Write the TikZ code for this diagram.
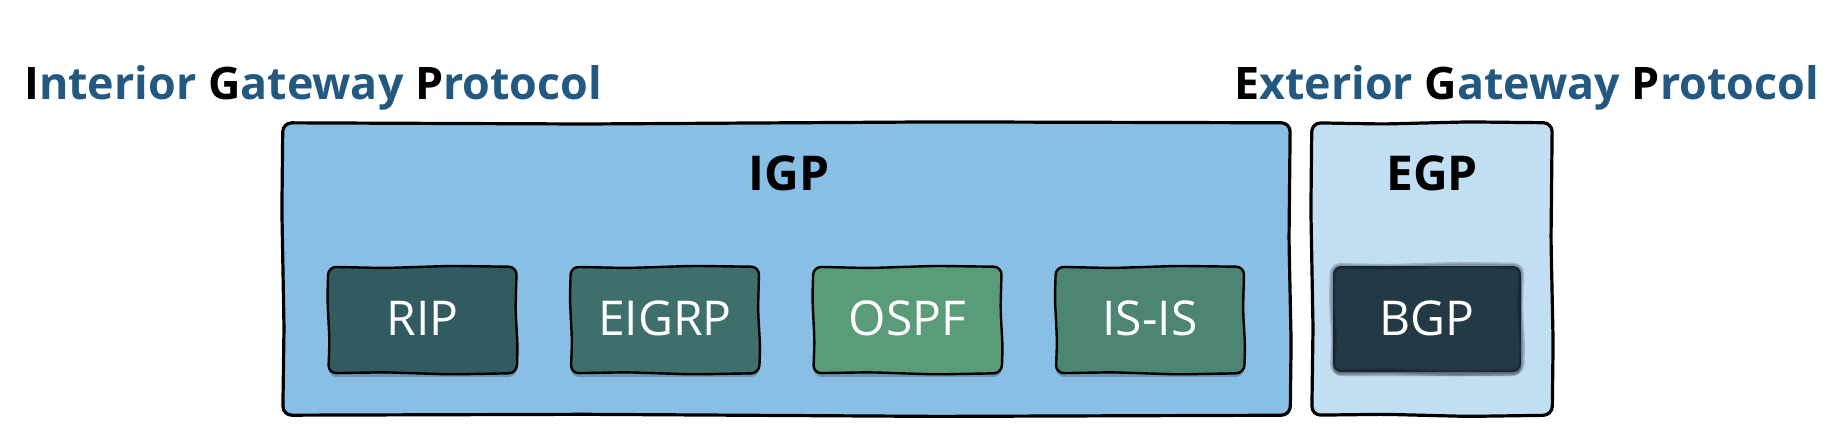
\documentclass[tikz,border=0pt]{standalone}
\usepackage{fontspec}
\setmainfont{Open Sans}
\usetikzlibrary{shadows,calc}
\definecolor{titleblue}{RGB}{35,88,128}
\definecolor{igpfill}{RGB}{137,191,229}
\definecolor{egpfill}{RGB}{194,222,243}
\definecolor{ripfill}{RGB}{50,91,95}
\definecolor{eigrpfill}{RGB}{63,111,107}
\definecolor{ospffill}{RGB}{90,155,122}
\definecolor{isisfill}{RGB}{76,133,115}
\definecolor{bgpfill}{RGB}{35,58,70}
\tikzset{
  outerbox/.style={draw=none,rounded corners=9pt,inner sep=0pt,minimum width=#1,minimum height=292pt},
  outerline/.style={draw=black,line width=3.2pt,rounded corners=9pt,line join=round},
  protobox/.style={draw=none,rounded corners=8pt,inner sep=0pt,minimum width=188pt,minimum height=106pt,
    drop shadow={shadow xshift=0pt,shadow yshift=-4pt,opacity=0.22,fill=black}},
  protoline/.style={draw=black,line width=2.4pt,rounded corners=8pt,line join=round},
  haloline/.style={draw=black,line width=#1,rounded corners=8pt,opacity=0.18},
  protolabel/.style={anchor=base,text=white,font=\fontsize{48}{52}\selectfont,inner sep=0pt},
  grouplabel/.style={anchor=base,text=black,font=\bfseries\fontsize{48}{52}\selectfont,inner sep=0pt},
  titletext/.style={text=titleblue,font=\bfseries\fontsize{44.8}{50}\selectfont,inner sep=0pt},
}
\newcommand{\blk}[1]{\textcolor{black}{#1}}
\newcommand{\wobblebox}[2]{%
  \draw[#2] (#1.north west)
    -- ($(#1.north west)!0.3!(#1.north east)+(0,1.2)$)
    -- ($(#1.north west)!0.65!(#1.north east)+(0,-0.9)$)
    -- (#1.north east)
    -- ($(#1.north east)!0.4!(#1.south east)+(-1.2,0)$)
    -- ($(#1.north east)!0.75!(#1.south east)+(0.9,0)$)
    -- (#1.south east)
    -- ($(#1.south east)!0.35!(#1.south west)+(0,1.2)$)
    -- ($(#1.south east)!0.7!(#1.south west)+(0,-0.9)$)
    -- (#1.south west)
    -- ($(#1.south west)!0.3!(#1.north west)+(1.2,0)$)
    -- ($(#1.south west)!0.7!(#1.north west)+(-0.9,0)$)
    -- cycle;}
\begin{document}
\begin{tikzpicture}[x=1pt,y=-1pt]
\useasboundingbox (0,0) rectangle (1846,437);
% titles
\node[titletext,anchor=base west] (igptitle) at (24,99) {\blk{I}nterior \blk{G}ateway \blk{P}rotocol};
\node[titletext,anchor=base east] (egptitle) at (1819,99) {\blk{E}xterior \blk{G}ateway \blk{P}rotocol};
% group boxes
\node[outerbox=1007pt,fill=igpfill] (igp) at (786.5,269) {};
\node[outerbox=240pt,fill=egpfill] (egp) at (1432,269) {};
\wobblebox{igp}{outerline}
\wobblebox{egp}{outerline}
\node[grouplabel] (igplabel) at (789,190) {IGP};
\node[grouplabel] (egplabel) at (1432,190) {EGP};
% protocol boxes
\node[protobox,fill=ripfill] (rip) at (422.5,320) {};
\node[protobox,fill=eigrpfill] (eigrp) at (665,320) {};
\node[protobox,fill=ospffill] (ospf) at (907.5,320) {};
\node[protobox,fill=isisfill] (isis) at (1150,320) {};
\node[protobox,fill=bgpfill] (bgp) at (1427,319) {};
\wobblebox{rip}{protoline}
\wobblebox{eigrp}{protoline}
\wobblebox{ospf}{protoline}
\wobblebox{isis}{protoline}
\wobblebox{bgp}{haloline=6pt}
\wobblebox{bgp}{haloline=3pt}
\node[protolabel] (riplabel) at (422.5,335) {RIP};
\node[protolabel] (eigrplabel) at (665,335) {EIGRP};
\node[protolabel] (ospflabel) at (907.5,335) {OSPF};
\node[protolabel] (isislabel) at (1150,335) {IS-IS};
\node[protolabel] (bgplabel) at (1427,335) {BGP};
\end{tikzpicture}
\end{document}
